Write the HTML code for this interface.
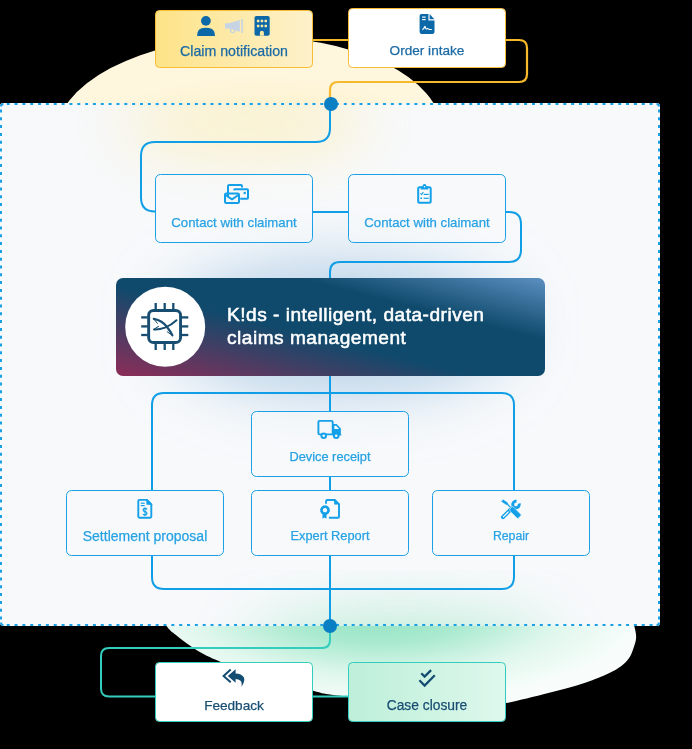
<!DOCTYPE html>
<html><head><meta charset="utf-8">
<style>
html,body{margin:0;padding:0;background:#000;}
body{width:692px;height:749px;position:relative;overflow:hidden;font-family:"Liberation Sans",sans-serif;}
svg{position:absolute;left:0;top:0;}
.t{position:absolute;white-space:nowrap;text-align:center;line-height:1;will-change:transform;-webkit-text-stroke:0.25px currentColor;}
</style></head><body>
<svg width="692" height="749" viewBox="0 0 692 749">
<defs>
  <radialGradient id="gy" cx="0.52" cy="0.75" r="0.55">
    <stop offset="0" stop-color="#fcedb8"/>
    <stop offset="0.6" stop-color="#fdf1cb"/>
    <stop offset="1" stop-color="#fef6dd"/>
  </radialGradient>
  <radialGradient id="gg" gradientUnits="userSpaceOnUse" cx="378" cy="611" r="265" gradientTransform="translate(378 611) scale(1 0.35) translate(-378 -611)">
    <stop offset="0" stop-color="#8ee2bf"/>
    <stop offset="0.35" stop-color="#aaead0"/>
    <stop offset="0.7" stop-color="#e0f7ed"/>
    <stop offset="1" stop-color="#f8fdfb"/>
  </radialGradient>
  <linearGradient id="gk" gradientUnits="userSpaceOnUse" x1="354.6" y1="230.6" x2="306.4" y2="423.4">
    <stop offset="0" stop-color="#5b8fc0"/>
    <stop offset="0.3" stop-color="#0f4a6c"/>
    <stop offset="0.56" stop-color="#0f4a6c"/>
    <stop offset="1" stop-color="#8c2d58"/>
  </linearGradient>
  <linearGradient id="gclaim" x1="0" y1="0" x2="1" y2="0">
    <stop offset="0" stop-color="#fde387"/>
    <stop offset="1" stop-color="#fdf1cb"/>
  </linearGradient>
  <linearGradient id="gcase" x1="0" y1="0" x2="1" y2="0">
    <stop offset="0" stop-color="#bdefd9"/>
    <stop offset="1" stop-color="#def8ec"/>
  </linearGradient>
  <filter id="blur30" x="-50%" y="-50%" width="200%" height="200%"><feGaussianBlur stdDeviation="30"/></filter>
  <clipPath id="boxclip"><rect x="0" y="103" width="660" height="523" rx="3"/></clipPath>
</defs>

<!-- outer blobs -->
<ellipse cx="248.65" cy="134.1" rx="193.3" ry="97.2" transform="rotate(-1.12 248.65 134.1)" fill="url(#gy)"/>
<path d="M150 600 C111.1 606.0 162.4 620.2 166.6 626 C170.8 631.8 171.3 631.2 175.3 634.5 C179.3 637.8 185.6 642.6 190.5 646 C195.4 649.4 199.8 652.1 204.9 654.7 C210.0 657.4 213.3 658.7 220.8 661.9 C228.3 665.1 240.1 670.5 250 674 C259.9 677.5 269.5 680.2 280 683 C290.5 685.8 304.7 688.9 313 690.8 C321.3 692.7 318.8 693.0 330 694.6 C341.2 696.2 363.3 698.8 380 700.3 C396.7 701.8 413.3 702.8 430 703.3 C446.7 703.8 467.3 703.6 480 703.5 C492.7 703.4 499.1 703.5 506 702.9 C513.0 702.2 515.5 701.0 521.7 699.6 C527.9 698.2 536.2 696.0 543.4 694.2 C550.6 692.4 557.8 690.8 565 688.8 C572.2 686.8 579.5 684.8 586.7 682.3 C593.9 679.8 602.6 676.3 608.4 673.6 C614.2 670.9 618.0 668.5 621.4 666 C624.8 663.5 626.9 661.1 628.9 658.3 C630.9 655.4 632.0 652.3 633.2 648.9 C634.4 645.5 635.9 641.8 636.1 638 C636.3 634.2 635.6 631.5 634.3 626 C632.9 620.5 667.0 611.0 628 605 C589.0 599.0 479.7 590.8 400 590 C320.3 589.2 188.9 594.0 150 600 Z" fill="url(#gg)"/>

<!-- dashed container -->
<rect x="0" y="103" width="660" height="523" rx="3" fill="#f7f9fb"/>
<g clip-path="url(#boxclip)">
  <ellipse cx="245" cy="122" rx="125" ry="40" fill="#fcefc0" opacity="0.75" filter="url(#blur30)"/>
  <ellipse cx="340" cy="328" rx="175" ry="70" fill="#bcd4e9" opacity="1" filter="url(#blur30)"/>
  <ellipse cx="400" cy="650" rx="150" ry="40" fill="#aee9cf" opacity="0.7" filter="url(#blur30)"/>
</g>
<g fill="none" stroke="#1aa0e6" stroke-width="2">
  <path d="M6.7 104 H656" stroke-dasharray="3 4.84"/>
  <path d="M6.7 625 H656" stroke-dasharray="3 4.84"/>
  <path d="M1 109.5 V621" stroke-dasharray="3 4.8"/>
  <path d="M659 109.5 V621" stroke-dasharray="3 4.8"/>
  <path d="M1 106.5 Q1 104 3.5 104"/>
  <path d="M659 106.5 Q659 104 656.5 104"/>
  <path d="M1 622.5 Q1 625 3.5 625"/>
  <path d="M659 622.5 Q659 625 656.5 625"/>
</g>

<!-- yellow connector -->
<g fill="none" stroke="#f7b92c" stroke-width="2.2">
  <line x1="313" y1="40" x2="348" y2="40"/>
  <path d="M506 40 H519 Q527 40 527 48 V74 Q527 82 519 82 H338 Q330 82 330 90 V104"/>
</g>

<!-- blue connectors -->
<g fill="none" stroke="#109ee6" stroke-width="2">
  <path d="M330 104 V128 Q330 142 316 142 H155 Q141 142 141 156 V197.5 Q141 211.5 155 211.5 H156"/>
  <line x1="313" y1="212" x2="348" y2="212"/>
  <path d="M506 212 H509 Q521 212 521 224 V250 Q521 262 509 262 H340 Q330 262 330 272 V278"/>
  <line x1="330" y1="376" x2="330" y2="412"/>
  <path d="M152 490 V405 Q152 393 164 393 H502 Q514 393 514 405 V490"/>
  <path d="M152 555 V577 Q152 589 164 589 H502 Q514 589 514 577 V555"/>
  <line x1="330" y1="476" x2="330" y2="491"/>
  <line x1="330" y1="555" x2="330" y2="626"/>
</g>

<!-- green connector -->
<g fill="none" stroke="#33cdbd" stroke-width="2">
  <path d="M330 626 V640 Q330 648 322 648 H109 Q101 648 101 656 V688.5 Q101 696.5 109 696.5 H156"/>
  <line x1="312" y1="696.5" x2="349" y2="696.5"/>
</g>

<!-- dots -->
<circle cx="331" cy="104" r="7" fill="#0a7fc4"/>
<circle cx="330" cy="626" r="7" fill="#0a7fc4"/>

<!-- header boxes -->
<rect x="155.5" y="10.5" width="157" height="57" rx="4" fill="url(#gclaim)" stroke="#f6bd35" stroke-width="1"/>
<rect x="348.5" y="8.5" width="157" height="59" rx="4" fill="#fff" stroke="#f6bd35" stroke-width="1"/>

<!-- inner boxes -->
<g fill="#f7f9fb" fill-opacity="0.55" stroke="#1aa0e6" stroke-width="1">
  <rect x="155.5" y="174.5" width="157" height="68" rx="5"/>
  <rect x="348.5" y="174.5" width="157" height="68" rx="5"/>
  <rect x="251.5" y="411.5" width="157" height="65" rx="5"/>
  <rect x="66.5" y="490.5" width="157" height="65" rx="5"/>
  <rect x="251.5" y="490.5" width="157" height="65" rx="5"/>
  <rect x="432.5" y="490.5" width="157" height="65" rx="5"/>
</g>

<!-- K!ds -->
<rect x="116" y="278" width="429" height="98" rx="7" fill="url(#gk)"/>
<circle cx="165.2" cy="326.8" r="40" fill="#fff"/>

<!-- bottom boxes -->
<rect x="155.5" y="662.5" width="157" height="59" rx="4" fill="#fff" stroke="#33cdbd" stroke-width="1"/>
<rect x="348.5" y="662.5" width="157" height="59" rx="4" fill="url(#gcase)" stroke="#33cdbd" stroke-width="1"/>

<!-- ICONS -->
<!-- person -->
<g fill="#0d68a8">
  <circle cx="205.9" cy="20.85" r="4.9"/>
  <path d="M197.1 36 Q197.1 30.5 200.5 28.8 Q202.3 27.7 205.9 27.7 Q209.6 27.7 211.4 28.8 Q215 30.5 215 36 Z"/>
</g>
<!-- megaphone -->
<g fill="#c7d4e4">
  <rect x="225" y="23.1" width="2.2" height="5.6"/>
  <path d="M226.8 23.8 L239.9 20.1 V31.8 L226.8 28.1 Z"/>
  <rect x="241.2" y="19.1" width="1.7" height="13.8"/>
  <path d="M230.5 28.8 Q230.3 32.6 232.6 32.6 Q234.8 32.6 235 30" fill="none" stroke="#c7d4e4" stroke-width="1.4"/>
</g>
<!-- building -->
<g>
  <rect x="254.5" y="16" width="15.2" height="19.8" rx="1.8" fill="#0d68a8"/>
  <g fill="#fde9a6">
    <rect x="256.9" y="19.7" width="2.5" height="2.5" rx="0.4"/><rect x="260.7" y="19.7" width="2.5" height="2.5" rx="0.4"/><rect x="264.5" y="19.7" width="2.5" height="2.5" rx="0.4"/>
    <rect x="256.9" y="24.7" width="2.5" height="2.5" rx="0.4"/><rect x="260.7" y="24.7" width="2.5" height="2.5" rx="0.4"/><rect x="264.5" y="24.7" width="2.5" height="2.5" rx="0.4"/>
    <path d="M259.9 35.8 V32.8 Q259.9 30.8 261.9 30.8 Q263.9 30.8 263.9 32.8 V35.8 Z"/>
  </g>
</g>
<!-- order doc -->
<g>
  <path d="M421.4 13.9 H428.4 V20.4 H434.5 V32.1 Q434.5 33.9 432.7 33.9 H421.4 Q419.6 33.9 419.6 32.1 V15.7 Q419.6 13.9 421.4 13.9 Z" fill="#0d68a8"/>
  <path d="M429.6 14.1 L434.4 19.2 H429.6 Z" fill="#0d68a8"/>
  <g stroke="#fff" stroke-width="1.15" fill="none">
    <line x1="422.1" y1="17.1" x2="425.7" y2="17.1"/><line x1="422.1" y1="19.6" x2="425.7" y2="19.6"/>
    <path d="M422.3 29.6 Q423.9 29.4 424.5 27 Q425 25.6 425.5 27.6 Q426 29.6 427 28.8 Q427.6 28.3 428.3 28.9 Q428.9 29.5 430 29.5 H431.8"/>
  </g>
</g>

<!-- contact icon 1 -->
<g fill="none" stroke="#14a0e8" stroke-width="2" stroke-linejoin="round">
  <path d="M228 196.5 V186.2 Q228 185 229.2 185 H240.8 Q242 185 242 186.2 V187.5"/>
  <path d="M234 190.2 Q234 189.2 235 189.2 H247 Q248 189.2 248 190.2 V197.8 Q248 198.8 247 198.8 H240.2"/>
  <rect x="225" y="193.6" width="14" height="9.4" rx="1.2"/>
  <path d="M225.6 195 L232 199.3 L238.4 195"/>
</g>
<rect x="243.6" y="191.9" width="2.2" height="2.2" fill="#14a0e8"/>
<!-- clipboard -->
<g fill="none" stroke="#14a0e8" stroke-width="2">
  <rect x="418.2" y="187.3" width="12.5" height="15.5" rx="1.5"/>
</g>
<g fill="#14a0e8">
  <path d="M420.8 186.5 H422.4 Q422.6 184.1 424.5 184.1 Q426.4 184.1 426.6 186.5 H428.2 V189.6 H420.8 Z"/>
  <circle cx="424.5" cy="186.7" r="0.75" fill="#f7f9fb"/>
  <path d="M420.5 193.2 L421.5 194.6 L423.4 192.2" fill="none" stroke="#14a0e8" stroke-width="1.1"/>
  <rect x="423.7" y="193.8" width="5" height="1.2"/>
  <rect x="420.4" y="197.5" width="1.6" height="1.5"/>
  <rect x="423.7" y="197.7" width="5" height="1.2"/>
</g>
<!-- truck -->
<g fill="none" stroke="#14a0e8" stroke-width="1.9">
  <path d="M332.7 434.4 H319.6 Q318.4 434.4 318.4 433.2 V422.1 Q318.4 420.9 319.6 420.9 H331.5 Q332.7 420.9 332.7 422.1 Z"/>
</g>
<path d="M332.7 424.1 H336.6 L340.9 428.4 V434.7 H342.2 L341 435.6 H332.7 Z" fill="#14a0e8"/>
<path d="M334.4 425.8 H336.1 L339.1 428.9 H334.4 Z" fill="#f7f9fb"/>
<g fill="#f7f9fb" stroke="#14a0e8" stroke-width="2">
  <circle cx="323.7" cy="435.8" r="2.3"/>
  <circle cx="336.2" cy="435.8" r="2.3"/>
</g>
<!-- expert -->
<g fill="none" stroke="#14a0e8" stroke-width="1.9">
  <path d="M326.1 503.7 V501 Q326.1 500 327.1 500 H334.6 L339 504.4 V516.7 Q339 517.7 338 517.7 H328.9"/>
</g>
<path d="M334.1 499.1 H335 L339.9 504 V504.6 H334.1 Z" fill="#14a0e8"/>
<circle cx="325" cy="510.2" r="3.5" fill="none" stroke="#14a0e8" stroke-width="2.6" stroke-dasharray="1.3 0.5"/>
<circle cx="325" cy="510.2" r="3.5" fill="none" stroke="#14a0e8" stroke-width="2.2"/>
<path d="M322.6 513.5 L322.4 518.7 L324.4 517.5 L326.4 518.7 L326.6 513.5 Z" fill="#14a0e8"/>
<!-- settlement -->
<g fill="none" stroke="#14a0e8" stroke-width="1.9">
  <path d="M139.5 499.9 H146.6 L151.3 504.6 V516.6 Q151.3 517.8 150.1 517.8 H139.5 Q138.3 517.8 138.3 516.6 V501.1 Q138.3 499.9 139.5 499.9 Z"/>
</g>
<path d="M146.4 499 H147.3 L152.3 504 V504.7 H146.4 Z" fill="#14a0e8"/>
<g fill="#14a0e8">
  <rect x="140.8" y="502.6" width="3.9" height="1.2"/>
  <rect x="140.8" y="505" width="3.9" height="1.2"/>
</g>
<path d="M147.1 509.4 Q146.4 508.5 145 508.5 Q143.2 508.5 143.2 510 Q143.2 511.3 145 511.7 Q146.9 512.1 146.9 513.5 Q146.9 515 145 515 Q143.5 515 142.9 514" fill="none" stroke="#14a0e8" stroke-width="1.3"/>
<line x1="145" y1="507.4" x2="145" y2="516.1" stroke="#14a0e8" stroke-width="1.1"/>
<!-- repair -->
<path d="M519.16 503.54 A3.3 3.3 0 1 1 516.52 501.24" fill="none" stroke="#14a0e8" stroke-width="2.9"/>
<path d="M503 517.2 L511.5 508.7" stroke="#14a0e8" stroke-width="4" stroke-linecap="round"/>
<path d="M503.3 516.9 L508.2 512" stroke="#f7f9fb" stroke-width="1.3" stroke-linecap="round"/>
<g fill="#14a0e8" stroke="#f7f9fb" stroke-width="0.6">
  <path d="M500.9 501.6 L503.2 499.2 L507.9 502.6 L508.4 504.1 L511.5 507.2 L510.3 508.4 L507.2 505.3 L505.7 504.8 Z"/>
  <path d="M509.6 509.1 L512.2 506.5 L514 507.4 L520.8 514.2 Q521.6 515 520.8 515.8 L518.5 518.1 Q517.7 518.9 516.9 518.1 L510.1 511.3 Z"/>
</g>

<!-- reply-all -->
<path d="M230.7 669.6 L223.6 676 L230.7 682.3" fill="none" stroke="#154c72" stroke-width="2" stroke-linejoin="miter"/>
<path d="M227.8 676 L235.6 669.2 V673.5 Q241.5 673.6 243.8 677.3 Q245.6 681 241.5 686.7 Q242.3 682.5 240.2 680.6 Q238.6 679 235.6 678.9 V682.7 Z" fill="#154c72"/>
<!-- double check -->
<g fill="none" stroke="#154c72" stroke-width="2.3" stroke-linecap="butt">
  <path d="M421.3 673.3 L424.6 676.6 L431.1 670.1"/>
  <path d="M419.4 680.3 L424.6 685.5 L434.8 675.3"/>
</g>

<!-- chip -->
<g fill="none" stroke="#174d70" stroke-width="2.9">
  <rect x="148.65" y="310.45" width="31.9" height="32.1" rx="4.8"/>
</g>
<g fill="#174d70">
  <rect x="154.55" y="303" width="2.3" height="7"/><rect x="163.55" y="303" width="2.3" height="7"/><rect x="172.15" y="303" width="2.3" height="7"/>
  <rect x="154.55" y="343" width="2.3" height="7"/><rect x="163.55" y="343" width="2.3" height="7"/><rect x="172.15" y="343" width="2.3" height="7"/>
  <rect x="141.2" y="316.25" width="6.5" height="2.3"/><rect x="141.2" y="325.25" width="6.5" height="2.3"/><rect x="141.2" y="333.85" width="6.5" height="2.3"/>
  <rect x="181.5" y="316.25" width="6.8" height="2.3"/><rect x="181.5" y="325.25" width="6.8" height="2.3"/><rect x="181.5" y="333.85" width="6.8" height="2.3"/>
</g>
<g fill="none" stroke="#174d70" stroke-linecap="round">
  <path d="M153.8 318.8 Q162.5 320.5 167 327 Q171 332 172.4 335.4" stroke-width="2.2"/>
  <path d="M154 319.2 L157.4 323.4" stroke-width="1"/>
  <path d="M172.4 335.4 L167.2 331.8" stroke-width="1"/>
  <path d="M176.5 320.3 Q171.5 325 165 327.6 Q159 329.8 154 329.4" stroke-width="2"/>
  <path d="M154 329.4 L158.4 326.4" stroke-width="1.1"/>
</g>
</svg>

<!-- TEXT -->
<div class="t" style="left:155px;top:44px;width:158px;font-size:14.2px;color:#1b6aa5;">Claim notification</div>
<div class="t" style="left:348px;top:44px;width:158px;font-size:13.6px;color:#1b6aa5;">Order intake</div>
<div class="t" style="left:155px;top:216px;width:158px;font-size:13.2px;color:#27a2e3;">Contact with claimant</div>
<div class="t" style="left:348px;top:216px;width:158px;font-size:13.2px;color:#27a2e3;">Contact with claimant</div>
<div class="t" style="left:251px;top:451px;width:158px;font-size:12.8px;color:#27a2e3;">Device receipt</div>
<div class="t" style="left:66px;top:529.3px;width:158px;font-size:14px;color:#27a2e3;">Settlement proposal</div>
<div class="t" style="left:251px;top:530px;width:158px;font-size:12.8px;color:#27a2e3;">Expert Report</div>
<div class="t" style="left:432px;top:530px;width:158px;font-size:12.3px;color:#27a2e3;">Repair</div>
<div class="t" style="left:155px;top:699px;width:158px;font-size:13.6px;color:#194e72;">Feedback</div>
<div class="t" style="left:348px;top:699px;width:158px;font-size:13.8px;color:#194e72;">Case closure</div>
<div class="t" style="left:227px;top:303.5px;text-align:left;font-size:19.1px;font-weight:normal;letter-spacing:0.5px;line-height:22.6px;color:#fff;-webkit-text-stroke:0.55px #fff;">K!ds - intelligent, data-driven<br>claims management</div>
</body></html>
